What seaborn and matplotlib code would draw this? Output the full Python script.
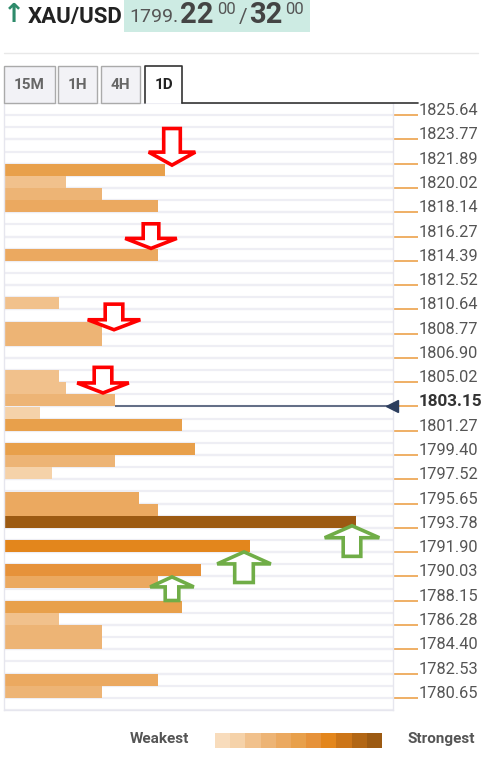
import matplotlib
matplotlib.use('Agg')
import matplotlib.pyplot as plt
import matplotlib.patches as mpatches
import matplotlib.transforms as mtransforms
from matplotlib.colors import ListedColormap
from matplotlib.lines import Line2D
import pandas as pd
import seaborn as sns

W, H = 485, 758

# price ladder on the right side
PRICE_LABELS = ['1825.64', '1823.77', '1821.89', '1820.02', '1818.14', '1816.27', '1814.39',
				'1812.52', '1810.64', '1808.77', '1806.90', '1805.02', '1803.15', '1801.27',
				'1799.40', '1797.52', '1795.65', '1793.78', '1791.90', '1790.03', '1788.15',
				'1786.28', '1784.40', '1782.53', '1780.65']
CURRENT_PRICE = '1803.15'

# confluence levels: row price, strength of the level, shade (1 = weakest .. 11 = strongest)
LEVEL_PRICES = [1821.42, 1820.48, 1819.55, 1818.61, 1814.86, 1811.11, 1809.24, 1808.30,
				1805.48, 1804.55, 1803.61, 1802.67, 1801.74, 1799.86, 1798.93, 1797.99,
				1796.11, 1795.18, 1794.24, 1792.37, 1790.49, 1789.56, 1787.68, 1786.74,
				1785.81, 1784.87, 1782.06, 1781.12]
LEVEL_STRENGTH = [161, 62, 98, 154, 154, 55, 98, 98,
				  55, 62, 111, 36, 178, 191, 111, 48,
				  135, 154, 352, 246, 197, 154, 178, 55,
				  98, 98, 154, 98]
LEVEL_SHADE = [6, 3, 4, 5, 5, 3, 4, 4,
			   3, 3, 4, 2, 6, 6, 4, 2,
			   5, 5, 11, 8, 7, 5, 6, 3,
			   4, 4, 5, 4]

SHADES = ['#f8dcbc', '#f5d2a9', '#f1c18c', '#edb475', '#eba960', '#e8a04b',
		  '#e6923a', '#e3861c', '#cc7518', '#b26614', '#9c5a12']

# resistance (down) and support (up) arrows: price of the tip, strength it points at
RESIST_PRICES = [1821.65, 1815.22, 1808.94, 1804.06]
RESIST_X = [168, 147, 110, 99]
SUPPORT_PRICES = [1794.07, 1792.05, 1790.12]
SUPPORT_X = [348, 240, 168]
# arrow shape in pixels: total length, head length, head half width, shaft half width
RESIST_SIZE = [(40, 13, 25, 10), (28, 10, 27.5, 9.5), (29, 10, 28, 10.5), (29, 10, 27.5, 10.5)]
SUPPORT_SIZE = [(34, 12, 29, 10.5), (34, 12, 28.5, 11), (27, 10, 23.5, 8.5)]


def fx(x):
	return x / W


def fy(y):
	return 1 - y / H


def arrow(ax, fig, x, y, size, color, up):
	total, head, hw, sw = size
	inset = 1.7
	total, hw, sw = total - 2 * inset, hw - inset, sw - inset
	sign = -1 if up else 1
	pts = [(0, 0), (-hw, head), (-sw, head), (-sw, total), (sw, total), (sw, head), (hw, head)]
	pts = [(px / 100.0, sign * (py + inset) / 100.0) for px, py in pts]
	trans = fig.dpi_scale_trans + mtransforms.ScaledTranslation(x, y, ax.transData)
	ax.add_patch(mpatches.Polygon(pts, closed=True, facecolor='white', edgecolor=color,
								  lw=2.6, transform=trans, zorder=5, clip_on=False,
								  joinstyle='miter'))


def main():
	sns.set_style('white')
	plt.rcParams['font.family'] = ['Roboto', 'DejaVu Sans']

	fig = plt.figure(figsize=(W / 100, H / 100), dpi=100)
	ax = fig.add_axes([fx(4), fy(710), (393 - 4) / W, (710 - 103) / H])

	df = pd.DataFrame({'price': LEVEL_PRICES, 'strength': LEVEL_STRENGTH, 'shade': LEVEL_SHADE})
	palette = {i + 1: c for i, c in enumerate(SHADES)}
	sns.barplot(data=df, x='strength', y='price', hue='shade', palette=palette, orient='y',
				native_scale=True, width=1, dodge=False, legend=False, saturation=1,
				errorbar=None, linewidth=0, ax=ax)

	ticks = [float(p) for p in PRICE_LABELS]
	step = (ticks[0] - ticks[-1]) / (2 * (len(ticks) - 1))
	top = ticks[0] + step
	rows = 2 * len(ticks)
	ax.set_ylim(top - rows * step, top)
	ax.set_xlim(0, 389)

	# row separators
	ax.set_yticks([top - i * step for i in range(rows + 1)], minor=True)
	ax.grid(which='both', axis='y', color='#eeeef4', lw=1.6)
	ax.grid(axis='x', visible=False)
	ax.set_axisbelow(True)

	ax.yaxis.tick_right()
	ax.set_yticks(ticks, labels=PRICE_LABELS)
	ax.tick_params(axis='y', which='major', length=18, width=1.1, color='#eb9a3c', pad=0.5,
				   labelsize=11.8, labelcolor='#555555', direction='out')
	ax.tick_params(axis='y', which='minor', length=0)
	for t in ax.get_yticklabels():
		t.set_va('baseline')
		if t.get_text() == CURRENT_PRICE:
			t.set_fontweight('bold')
			t.set_fontsize(12.3)
			t.set_color('#333333')
	ax.set_xticks([])
	ax.set_xlabel('')
	ax.set_ylabel('')
	for side in ['left', 'right', 'bottom']:
		ax.spines[side].set_color('#e6e6ee')
		ax.spines[side].set_linewidth(1)
	ax.spines['top'].set_visible(False)

	# current price line
	cur = float(CURRENT_PRICE)
	above = min([p for p in LEVEL_PRICES if p > cur])
	start = LEVEL_STRENGTH[LEVEL_PRICES.index(above)]
	ax.hlines(cur, start, 389, color='#56627c', lw=1.3, zorder=3)
	ax.plot([388], [cur], marker='<', ms=8, color='#2c3e5e', clip_on=False, zorder=4)

	for p, x, s in zip(RESIST_PRICES, RESIST_X, RESIST_SIZE):
		arrow(ax, fig, x, p, s, '#ff0000', False)
	for p, x, s in zip(SUPPORT_PRICES, SUPPORT_X, SUPPORT_SIZE):
		arrow(ax, fig, x, p, s, '#70ad47', True)

	# header
	fig.text(fx(3), fy(22), '\u2191', family='DejaVu Sans', fontweight='bold', size=19,
			 color='#2e8b6b', va='baseline')
	fig.text(fx(28), fy(23), 'XAU/USD', fontweight='bold', size=16, color='#222222', va='baseline')
	fig.patches.append(mpatches.Rectangle((fx(124), fy(32)), (310 - 124) / W, 32 / H,
										  facecolor='#cdebe3', edgecolor='none',
										  transform=fig.transFigure, figure=fig))
	fig.text(fx(129), fy(22), '1799.', size=14, color='#555555', va='baseline')
	fig.text(fx(180), fy(23), '22', fontweight='bold', size=21, color='#444444', va='baseline')
	fig.text(fx(217), fy(14), '00', size=12, color='#555555', va='baseline')
	fig.text(fx(239), fy(23), '/', size=15, color='#555555', va='baseline')
	fig.text(fx(249), fy(23), '32', fontweight='bold', size=21, color='#444444', va='baseline')
	fig.text(fx(285), fy(14), '00', size=12, color='#555555', va='baseline')
	fig.lines.append(Line2D([fx(4), fx(478)], [fy(53), fy(53)], color='#e8e8e8', lw=1,
							transform=fig.transFigure, figure=fig))

	# timeframe tabs
	tabs = [('15M', 4, 55, False), ('1H', 58, 97, False), ('4H', 101, 140, False), ('1D', 145, 182, True)]
	for label, x0, x1, active in tabs:
		if active:
			fig.lines.append(Line2D([fx(x0), fx(x0), fx(x1), fx(x1)], [fy(103), fy(66), fy(66), fy(103)],
									color='#333333', lw=1.2, transform=fig.transFigure, figure=fig))
			col = '#222222'
		else:
			fig.patches.append(mpatches.Rectangle((fx(x0), fy(103)), (x1 - x0) / W, 37 / H,
												  facecolor='#f2f2f6', edgecolor='#aaaaaa', lw=1,
												  transform=fig.transFigure, figure=fig))
			col = '#666666'
		fig.text(fx((x0 + x1) / 2), fy(85), label, ha='center', va='center', fontweight='bold',
				 size=11, color=col)
	fig.lines.append(Line2D([fx(182), fx(418)], [fy(103), fy(103)], color='#333333', lw=1.2,
							transform=fig.transFigure, figure=fig))

	# strength legend
	fig.text(fx(159), fy(739), 'Weakest', ha='center', va='center', fontweight='bold', size=11, color='#555555')
	fig.text(fx(441), fy(739), 'Strongest', ha='center', va='center', fontweight='bold', size=11, color='#555555')
	lax = fig.add_axes([fx(215), fy(748), (382 - 215) / W, 15 / H])
	sns.heatmap([list(range(len(SHADES)))], cmap=ListedColormap(SHADES), cbar=False,
				xticklabels=False, yticklabels=False, ax=lax)

	fig.savefig('out.png', dpi=100)


if __name__ == "__main__":
	main()
